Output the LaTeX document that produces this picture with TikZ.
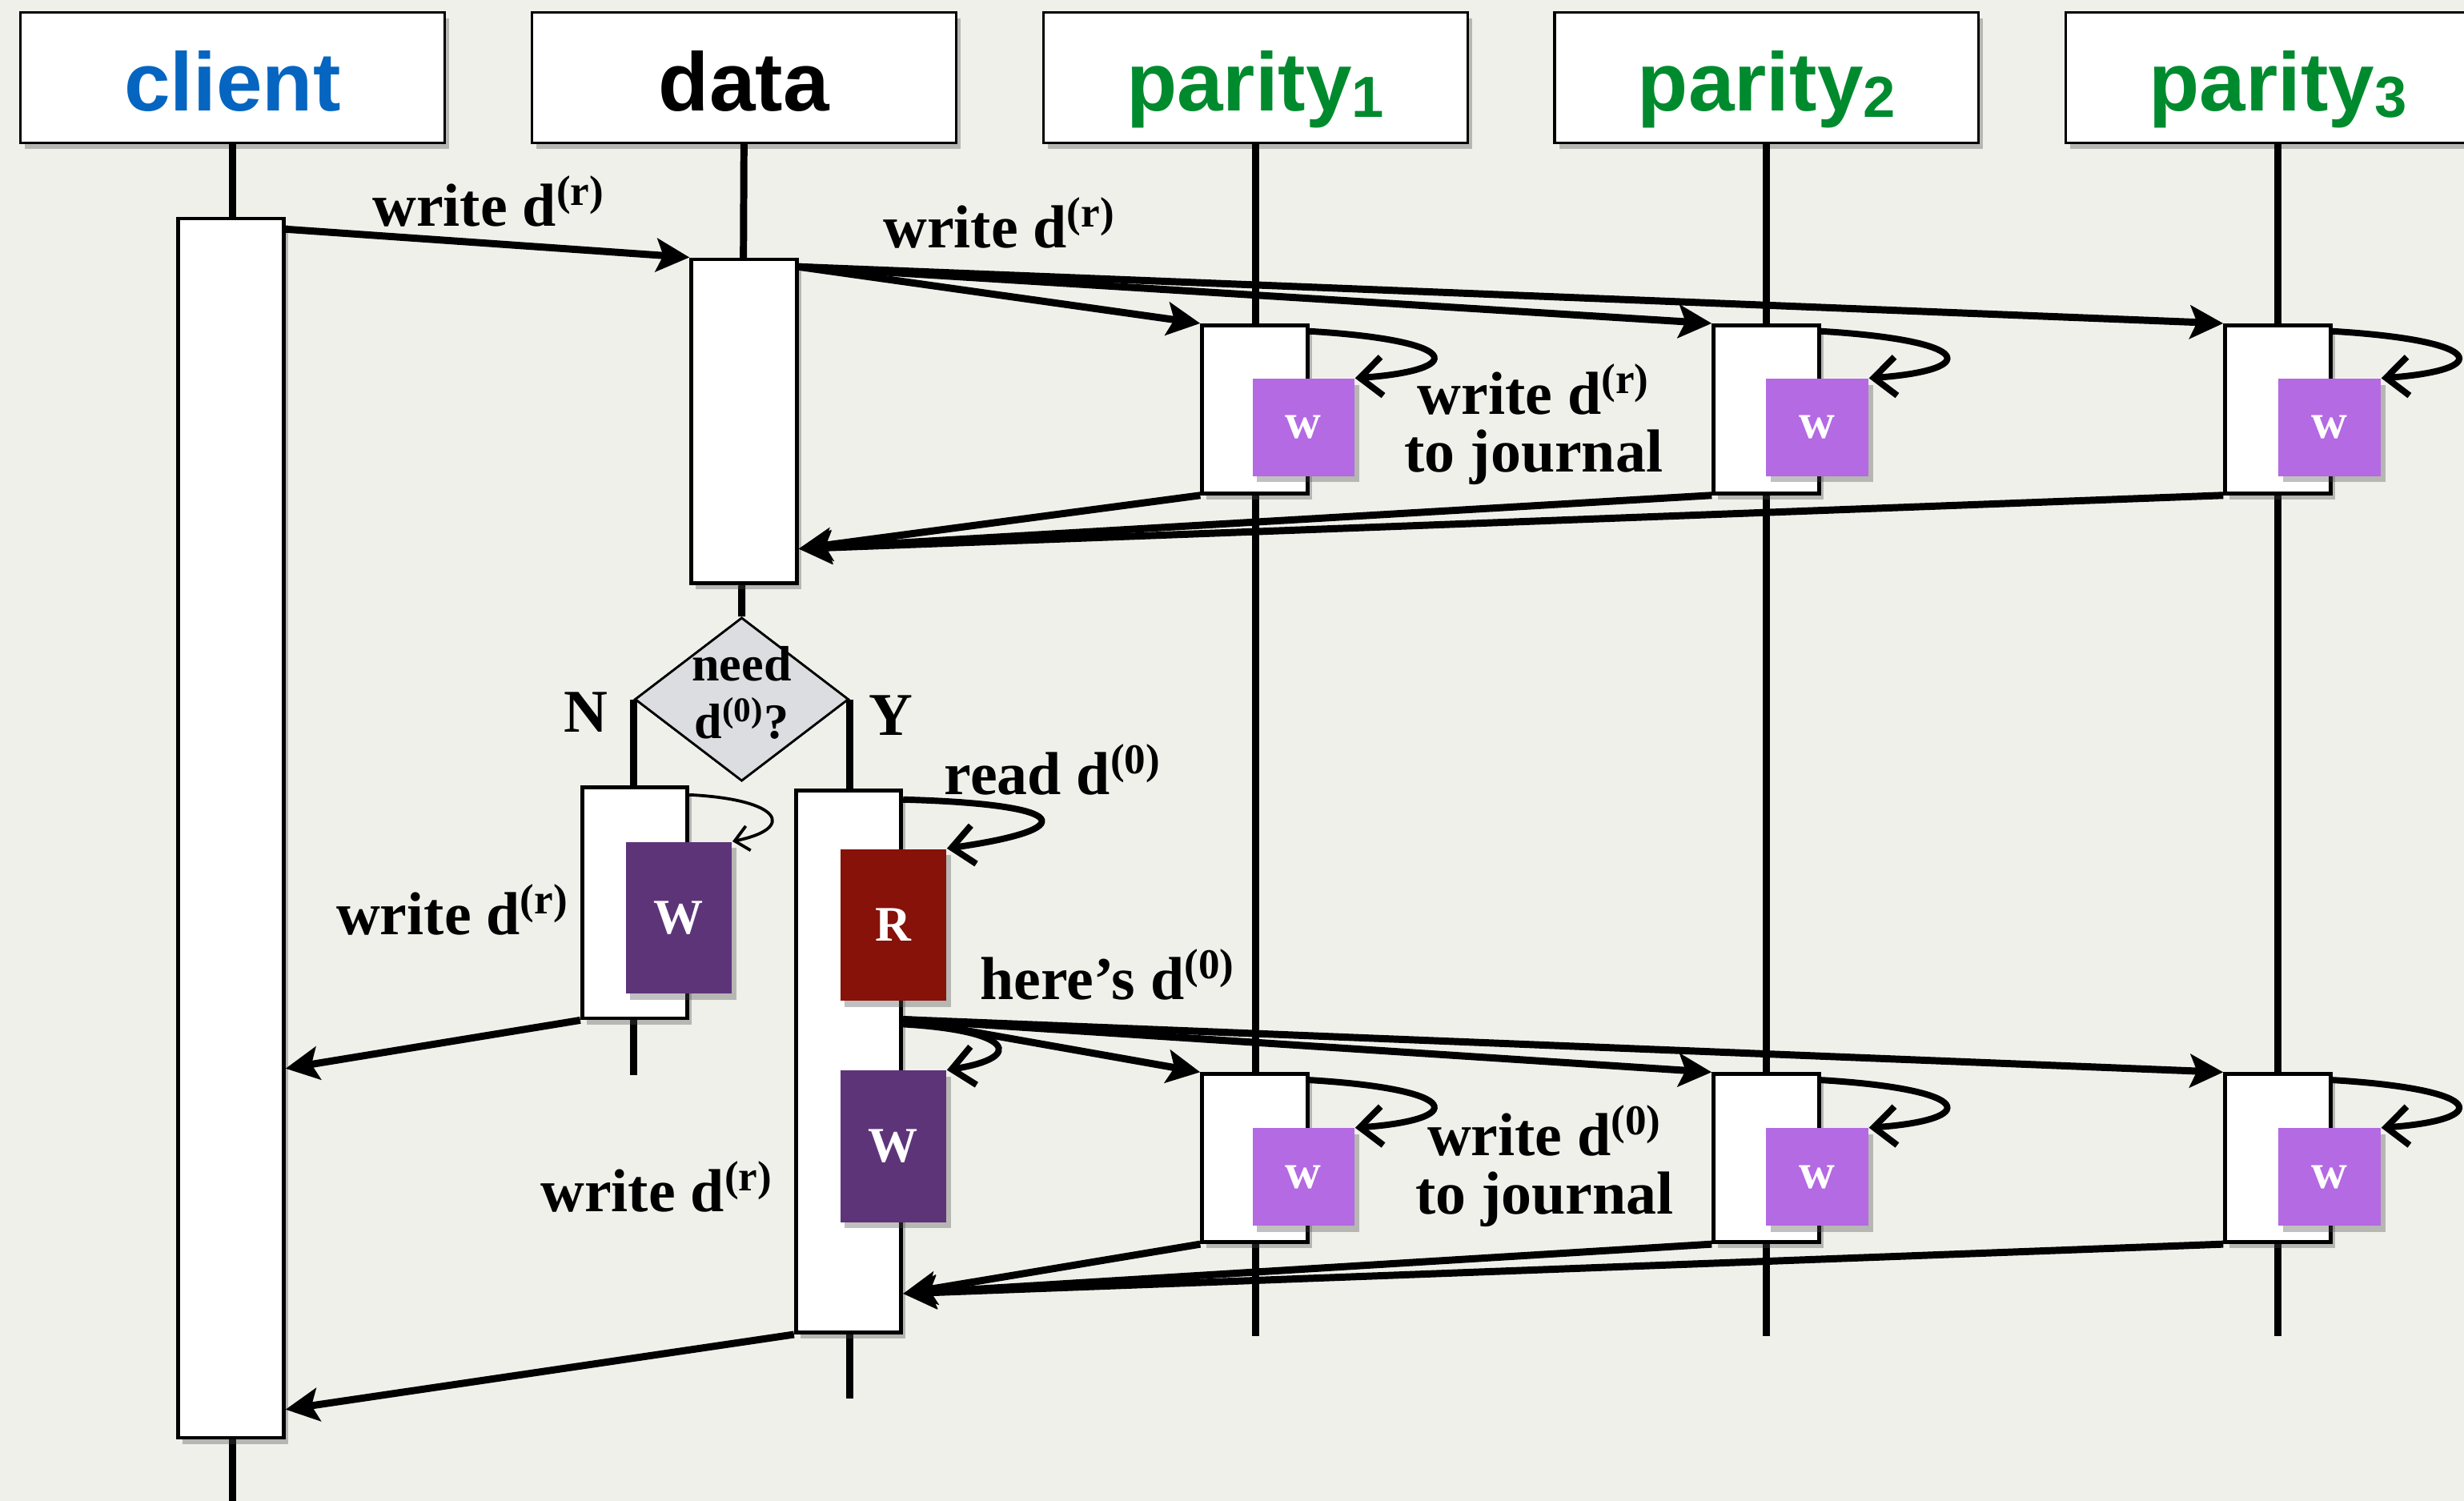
\documentclass[tikz,border=0pt]{standalone}
\usepackage{fontspec}
\setmainfont{Liberation Serif}
\setsansfont{Liberation Sans}
\usepackage{tikz}
\usetikzlibrary{arrows.meta,positioning,calc,shapes.geometric,shadows}
\definecolor{sqbg}{RGB}{240,240,235}
\definecolor{sqclient}{RGB}{5,101,192}
\definecolor{sqparity}{RGB}{0,138,46}
\definecolor{sqwlight}{RGB}{179,106,226}
\definecolor{sqwdark}{RGB}{94,52,121}
\definecolor{sqread}{RGB}{134,18,10}
\definecolor{sqdiam}{RGB}{220,221,224}
\newcommand{\sqsub}[1]{\raisebox{-2.5pt}{\fontsize{21}{21}\selectfont #1}}
\tikzset{
  sqshadow/.style={drop shadow={shadow xshift=1.6pt, shadow yshift=-2.2pt, opacity=0.35, fill=black!70}},
  head/.style={
    draw=black, line width=0.9pt, fill=white, sqshadow, inner sep=0pt,
    minimum width=5.4cm, minimum height=1.66cm, text height=0.84cm, text depth=0pt,
    font=\fontsize{30}{30}\selectfont\sffamily\bfseries
  },
  act/.style={draw=black, line width=1.4pt, fill=white, sqshadow, minimum width=1.34cm, inner sep=0pt},
  opw/.style={
    fill=sqwlight, sqshadow, minimum width=1.3cm, minimum height=1.24cm, inner sep=0pt,
    text=white, font=\fontsize{18}{18}\selectfont\bfseries
  },
  opbig/.style={
    sqshadow, minimum width=1.35cm, minimum height=1.93cm, inner sep=0pt,
    text=white, font=\fontsize{18}{18}\selectfont\bfseries
  },
  decide/.style={diamond, draw=black, line width=0.8pt, fill=sqdiam, minimum width=2.72cm, minimum height=2.08cm, inner sep=0pt},
  life/.style={line width=2.6pt},
  msg/.style={-{Stealth[length=12pt,width=12pt,inset=2.5pt]}, line width=2.6pt},
  selfmsg/.style={-{Straight Barb[length=8pt,width=14pt]}, line width=2.3pt},
  thinself/.style={-{Straight Barb[length=5pt,width=9pt]}, line width=1.1pt},
  lbl/.style={font=\fontsize{22}{21}\selectfont\bfseries, align=center, inner sep=0pt},
  dlbl/.style={font=\fontsize{18}{21}\selectfont\bfseries, align=center, inner sep=0pt}
}
\begin{document}
\begin{tikzpicture}[x=0.02cm, y=-0.02cm]
  \useasboundingbox (0,0) rectangle (1568,955);
  \clip (0,0) rectangle (1568,955);
  \fill[sqbg] (0,0) rectangle (1568,955);

  \node[head, text=sqclient] (hcl) at (148,49.5) {client};
  \node[head, right=1.078cm of hcl] (hda) {data};
  \node[head, text=sqparity, right=1.078cm of hda] (hp1) {parity\sqsub{1}};
  \node[head, text=sqparity, right=1.078cm of hp1] (hp2) {parity\sqsub{2}};
  \node[head, text=sqparity, right=1.078cm of hp2] (hp3) {parity\sqsub{3}};

  \node[decide] (dia) at (472,445) {};
  \coordinate (clend) at (hcl.south |- 0,955);
  \coordinate (p1end) at (hp1.south |- 0,850);
  \coordinate (p2end) at (hp2.south |- 0,850);
  \coordinate (p3end) at (hp3.south |- 0,850);
  \coordinate (nend) at (dia.west |- 0,684);
  \coordinate (yend) at (dia.east |- 0,890);

  % lifelines
  \draw[life] (hcl.south) -- (clend);
  \draw[life] (hda.south) -- (dia.north);
  \draw[life] (hp1.south) -- (p1end);
  \draw[life] (hp2.south) -- (p2end);
  \draw[life] (hp3.south) -- (p3end);
  \draw[life] (dia.west) -- (nend);
  \draw[life] (dia.east) -- (yend);
  \node[decide] at (dia.center) {};
  \node[dlbl] (dtxt) at (472,441) {need\\d\textsuperscript{(0)}?};

  \node[act, minimum height=15.52cm] (acl) at (147,527) {};
  \node[act, minimum height=4.12cm] (ada) at (473.5,268) {};
  \node[act, minimum height=2.14cm] (ap1) at (798.5,260.5) {};
  \node[act, minimum height=2.14cm] (ap2) at (1124,260.5) {};
  \node[act, minimum height=2.14cm] (ap3) at (1449.5,260.5) {};
  \node[opw] (w1) at (829.5,272) {w};
  \node[opw] (w2) at (1156.5,272) {w};
  \node[opw] (w3) at (1482.5,272) {w};
  \node[act, minimum height=2.94cm] (anb) at (404,574.5) {};
  \node[act, minimum height=6.9cm] (ayb) at (540,675.5) {};
  \node[opbig, fill=sqwdark] (nw) at (432,584) {W};
  \node[opbig, fill=sqread] (yr) at (568.5,588.5) {R};
  \node[opbig, fill=sqwdark] (yw) at (568.5,729.5) {W};
  \node[act, minimum height=2.14cm] (bp1) at (798.5,737) {};
  \node[act, minimum height=2.14cm] (bp2) at (1124,737) {};
  \node[act, minimum height=2.14cm] (bp3) at (1449.5,737) {};
  \node[opw] (v1) at (829.5,749) {w};
  \node[opw] (v2) at (1156.5,749) {w};
  \node[opw] (v3) at (1482.5,749) {w};

  \node[lbl] (l1) at (311,128) {write d\textsuperscript{(r)}};
  \node[lbl] (l2) at (636,142) {write d\textsuperscript{(r)}};
  \node[lbl] (l3) at (976,270) {write d\textsuperscript{(r)}\\to journal};
  \node[lbl] (ln) at (373,453) {N};
  \node[lbl] (ly) at (567,455) {Y};
  \node[lbl] (l4) at (288,579) {write d\textsuperscript{(r)}};
  \node[lbl] (l5) at (670,490) {read d\textsuperscript{(0)}};
  \node[lbl] (l6) at (705,620) {here’s d\textsuperscript{(0)}};
  \node[lbl] (l7) at (983,742) {write d\textsuperscript{(0)}\\to journal};
  \node[lbl] (l8) at (418,755) {write d\textsuperscript{(r)}};

  % first round
  \draw[msg] ([yshift=-0.16cm]acl.north east) -- (ada.north west);
  \draw[msg] ([yshift=-0.12cm]ada.north east) -- (ap1.north west);
  \draw[msg] ([yshift=-0.12cm]ada.north east) -- (ap2.north west);
  \draw[msg] ([yshift=-0.12cm]ada.north east) -- (ap3.north west);
  \draw[selfmsg] ([yshift=-0.1cm]ap1.north east) .. controls +(100,6) and +(70,-5) .. (w1.north east);
  \draw[selfmsg] ([yshift=-0.1cm]ap2.north east) .. controls +(100,6) and +(70,-5) .. (w2.north east);
  \draw[selfmsg] ([yshift=-0.1cm]ap3.north east) .. controls +(100,6) and +(70,-5) .. (w3.north east);
  \draw[msg] (ap1.south west) -- ([yshift=0.46cm]ada.south east);
  \draw[msg] (ap2.south west) -- ([yshift=0.46cm]ada.south east);
  \draw[msg] (ap3.south west) -- ([yshift=0.46cm]ada.south east);

  % N branch
  \draw[thinself] ([yshift=-0.12cm]anb.north east) .. controls +(60,3) and +(40,-8) .. (nw.north east);
  \draw[msg] (anb.south west) -- ([yshift=-3.06cm]acl.east);

  % Y branch
  \draw[selfmsg] ([yshift=-0.14cm]ayb.north east) .. controls +(110,3) and +(85,-12) .. (yr.north east);
  \draw[selfmsg] ([yshift=-3.0cm]ayb.north east) .. controls +(70,4) and +(50,-8) .. (yw.north east);
  \draw[msg] ([yshift=-2.94cm]ayb.north east) -- (bp1.north west);
  \draw[msg] ([yshift=-2.94cm]ayb.north east) -- (bp2.north west);
  \draw[msg] ([yshift=-2.94cm]ayb.north east) -- (bp3.north west);
  \draw[selfmsg] ([yshift=-0.1cm]bp1.north east) .. controls +(100,6) and +(70,-5) .. (v1.north east);
  \draw[selfmsg] ([yshift=-0.1cm]bp2.north east) .. controls +(100,6) and +(70,-5) .. (v2.north east);
  \draw[selfmsg] ([yshift=-0.1cm]bp3.north east) .. controls +(100,6) and +(70,-5) .. (v3.north east);
  \draw[msg] (bp1.south west) -- ([yshift=0.52cm]ayb.south east);
  \draw[msg] (bp2.south west) -- ([yshift=0.52cm]ayb.south east);
  \draw[msg] (bp3.south west) -- ([yshift=0.52cm]ayb.south east);
  \draw[msg] (ayb.south west) -- ([yshift=-7.4cm]acl.east);
\end{tikzpicture}
\end{document}
